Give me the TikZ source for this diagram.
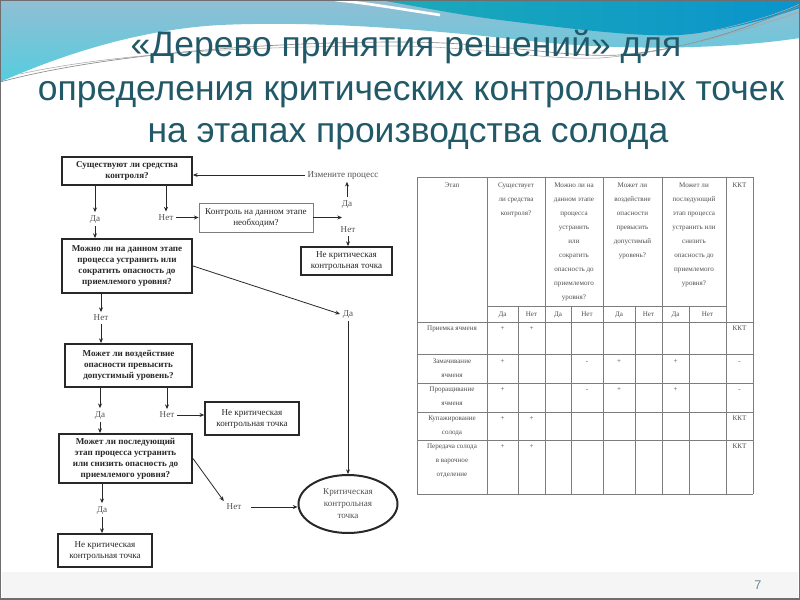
\documentclass[tikz,border=0pt]{standalone}
\usepackage{fontspec}
\setmainfont{Liberation Serif}
\newfontfamily\titlefont{Liberation Sans}
\usetikzlibrary{arrows.meta,shapes.geometric}
\definecolor{titlec}{RGB}{33,89,104}
\definecolor{tealA}{RGB}{28,170,184}
\definecolor{tealB}{RGB}{10,148,204}
\definecolor{paleT}{RGB}{145,190,212}
\definecolor{paleB}{RGB}{85,205,222}
\definecolor{fl}{RGB}{40,40,40}
\definecolor{tl}{RGB}{125,125,125}
\definecolor{tt}{RGB}{80,80,80}
\definecolor{frame}{RGB}{110,110,110}
\definecolor{pgc}{RGB}{110,135,150}
\newcommand\mlt[1]{\begin{tabular}{@{}c@{}}#1\end{tabular}}
\tikzset{
  ftxt/.style={font=\fontsize{6.8}{8.25}\selectfont, text=fl},
  qbox/.style={draw=fl, line width=1.5pt, inner sep=0pt, ftxt, font=\fontsize{6.8}{8.25}\selectfont\bfseries},
  nbox/.style={draw=fl, line width=1.5pt, inner sep=0pt, ftxt},
  tbox/.style={draw=tl, line width=0.6pt, inner sep=0pt, ftxt},
  lbl/.style={ftxt, text=fl!80, inner sep=2pt},
  arr/.style={draw=fl, line width=0.6pt, -{Stealth[length=3.5pt,width=3pt]}},
  tline/.style={draw=tl, line width=0.6pt},
  thead/.style={font=\fontsize{5.3}{10.5}\selectfont, text=tt, align=center, anchor=north, inner sep=0pt},
  ttitle/.style={font=\titlefont\fontsize{26.6}{30}\selectfont, text=titlec, anchor=base, inner sep=0pt}
}
\begin{document}
\begin{tikzpicture}[x=0.75pt,y=-0.75pt]
\useasboundingbox (0,0) rectangle (800,600);
\fill[white] (0,0) rectangle (800,600);
\fill[black!4] (2,572) rectangle (798,598);
% waves
\shade[top color=paleT, bottom color=paleB]
  (0,0) -- (800,0) -- (800,38) .. controls (720,50) and (620,50) .. (540,42)
  .. controls (450,32) and (330,20) .. (220,25) .. controls (130,30) and (50,60) .. (0,82) -- cycle;
\draw[white, line width=2pt] (335,0) .. controls (365,3) and (395,8) .. (440,15);
\shade[left color=tealA, right color=tealB]
  (380,0) .. controls (420,7) and (460,15) .. (500,20) .. controls (580,30) and (640,37) .. (680,35)
  .. controls (730,31) and (770,18) .. (800,8) -- (800,0) -- cycle;
\draw[black!45, line width=0.5pt] (0,82) .. controls (100,55) and (260,42) .. (400,42)
  .. controls (500,42) and (560,58) .. (620,55) .. controls (700,48) and (760,22) .. (800,6);
\draw[black!35, line width=0.4pt] (20,74) .. controls (120,52) and (260,46) .. (400,46)
  .. controls (480,47) and (540,60) .. (600,58) .. controls (680,52) and (750,28) .. (800,12);
\draw[white!70!black, line width=0.4pt] (640,44) .. controls (700,35) and (760,22) .. (800,4);
% frame
\draw[frame, line width=1.2pt] (0.5,0.5) rectangle (799.5,599.2);
% title
\node[ttitle] (t1) at (406,56) {«Дерево принятия решений» для};
\node[ttitle] (t2) at (411,100) {определения критических контрольных точек};
\node[ttitle] (t3) at (408,142) {на этапах производства солода};
% flowchart
\node[qbox, minimum width=97.5pt, minimum height=21pt] (b1) at (127,171) {\mlt{Существуют ли средства\\контроля?}};
\node[lbl] (izm) at (343,175) {Измените процесс};
\node[lbl] (da1) at (95,219) {Да};
\node[lbl] (net1) at (166,217.5) {Нет};
\node[tbox, minimum width=85.5pt, minimum height=21.75pt] (ctrl) at (256,217.5) {\mlt{Контроль на данном этапе\\необходим?}};
\coordinate (j1) at (342,217.5);
\node[lbl] (da2) at (347,204) {Да};
\node[lbl] (net2) at (348,230) {Нет};
\node[nbox, minimum width=68.25pt, minimum height=21pt] (nk1) at (346.5,261) {\mlt{Не критическая\\контрольная точка}};
\node[qbox, minimum width=97.5pt, minimum height=40.5pt] (b2) at (127,266) {\mlt{Можно ли на данном этапе\\процесса устранить или\\сократить опасность до\\приемлемого уровня?}};
\node[lbl] (da3) at (348,314) {Да};
\node[lbl] (net3) at (101,318) {Нет};
\node[qbox, minimum width=95.25pt, minimum height=32.25pt] (b3) at (128.5,365.5) {\mlt{Может ли воздействие\\опасности превысить\\допустимый уровень?}};
\node[lbl] (da4) at (100,415) {Да};
\node[lbl] (net4) at (167,415) {Нет};
\node[nbox, line width=1.2pt, minimum width=70.5pt, minimum height=24.75pt] (nk2) at (252,418.5) {\mlt{Не критическая\\контрольная точка}};
\node[qbox, minimum width=99.75pt, minimum height=36.75pt] (b4) at (125.5,458.5) {\mlt{Может ли последующий\\этап процесса устранить\\или снизить опасность до\\приемлемого уровня?}};
\node[lbl] (net5) at (234,507) {Нет};
\node[ellipse, draw=fl, line width=1.5pt, inner sep=0pt, minimum width=74.25pt, minimum height=43.5pt, ftxt, text=fl!80, font=\fontsize{6.8}{9}\selectfont] (kkt) at (348,504) {\mlt{Критическая\\контрольная\\точка}};
\node[lbl] (da5) at (102,510) {Да};
\node[nbox, minimum width=70.5pt, minimum height=24.75pt] (nk3) at (105,550.5) {\mlt{Не критическая\\контрольная точка}};
% connectors
\draw[arr] (b1.south -| da1) -- (da1.north);
\draw[arr] (b1.south -| net1) -- (net1.north);
\draw[arr] (net1.east) -- (ctrl.west);
\draw[arr] (ctrl.east) -- (j1);
\draw[arr] (da2.north) -- (da2.north |- izm.south);
\draw[arr] (izm.west) -- (izm.west -| b1.east);
\draw[arr] (net2.south) -- (net2.south |- nk1.north);
\draw[arr] (da1.south) -- (da1.south |- b2.north);
\draw[arr] (b2.east) -- (da3.west);
\draw[arr] (da3.south) -- (kkt.north);
\draw[arr] (b2.south -| net3) -- (net3.north);
\draw[arr] (net3.south) -- (net3.south |- b3.north);
\draw[arr] (b3.south -| da4) -- (da4.north);
\draw[arr] (b3.south -| net4) -- (net4.north);
\draw[arr] (net4.east) -- (net4.east -| nk2.west);
\draw[arr] (da4.south) -- (da4.south |- b4.north);
\draw[arr] (b4.east) -- (net5.north west);
\draw[arr, shorten <=5pt] (net5.east) -- (net5.east -| kkt.west);
\draw[arr] (b4.south -| da5) -- (da5.north);
\draw[arr] (da5.south) -- (da5.south |- nk3.north);
% table grid
\foreach \x in {417,487,545,603,662,726,753} \draw[tline] (\x,177) -- (\x,494);
\foreach \x in {518,571,635,689} \draw[tline] (\x,306) -- (\x,494);
\foreach \y in {177,322,354,383,412,440,494} \draw[tline] (417,\y) -- (753,\y);
\draw[tline] (487,306) -- (726,306);
% table header
\node[thead] (h0) at (452,182.5) {Этап};
\node[thead] (h1) at (516,182.5) {Существует\\ли средства\\контроля?};
\node[thead] (h2) at (574,182.5) {Можно ли на\\данном этапе\\процесса\\устранить\\или\\сократить\\опасность до\\приемлемого\\уровня?};
\node[thead] (h3) at (632.5,182.5) {Может ли\\воздействие\\опасности\\превысить\\допустимый\\уровень?};
\node[thead] (h4) at (694,182.5) {Может ли\\последующий\\этап процесса\\устранить или\\снизить\\опасность до\\приемлемого\\уровня?};
\node[thead] (h5) at (739.5,182.5) {ККТ};
\foreach \x/\t [count=\i] in {502.5/Да,531.5/Нет,558/Да,587/Нет,619/Да,648.5/Нет,675.5/Да,707.5/Нет}
  \node[thead] (dn\i) at (\x,312) {\vphantom{ДН}\t};
% table body
\node[thead] (r1) at (452,325.5) {Приемка ячменя};
\node[thead] (r2) at (452,358.5) {Замачивание\\ячменя};
\node[thead] (r3) at (452,387) {Проращивание\\ячменя};
\node[thead] (r4) at (452,415.5) {Купажирование\\солода};
\node[thead] (r5) at (452,443.5) {Передача солода\\в варочное\\отделение};
\foreach \x/\y/\t [count=\i] in {
  502.5/325.5/+, 531.5/325.5/+, 739.5/325.5/ККТ,
  502.5/358.5/+, 587/358.5/-, 619/358.5/+, 675.5/358.5/+, 739.5/358.5/-,
  502.5/387/+, 587/387/-, 619/387/+, 675.5/387/+, 739.5/387/-,
  502.5/415.5/+, 531.5/415.5/+, 739.5/415.5/ККТ,
  502.5/443.5/+, 531.5/443.5/+, 739.5/443.5/ККТ}
  \node[thead] (m\i) at (\x,\y) {\vphantom{ДН}\t};
% page number
\node[font=\titlefont\fontsize{9.5}{11}\selectfont, text=pgc, inner sep=0pt] (pg) at (758,585) {7};
\end{tikzpicture}
\end{document}
